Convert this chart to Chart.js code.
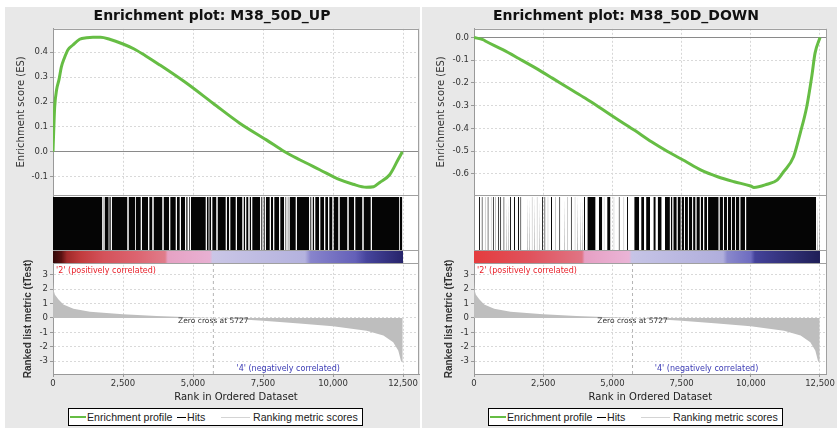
<!DOCTYPE html>
<html><head><meta charset="utf-8">
<script src="https://cdn.jsdelivr.net/npm/chart.js@4.4.1/dist/chart.umd.min.js"></script>
<style>
html,body{margin:0;padding:0;background:#fff;}
body{width:837px;height:428px;position:relative;overflow:hidden;}
.panel{position:absolute;top:7px;height:421px;width:415px;background:#e8e8e8;}
.panel canvas{position:absolute;left:0;top:0;}
.legend{position:absolute;top:401px;width:293px;height:16px;border:1px solid #000;background:#fff;font:10.6px "Liberation Sans",sans-serif;color:#222;white-space:nowrap;}
.legend span{position:absolute;top:1px;line-height:14px;}
.legend i{position:absolute;top:8px;height:0;border-top-style:solid;}
</style></head><body>
<div class="panel" id="pL" style="left:5px;"><canvas id="cL" width="415" height="400"></canvas>
  <div class="legend" style="left:63px;"><i style="left:1px;width:16px;border-top-width:2px;border-color:#66bd44;top:7px"></i><span style="left:18px">Enrichment profile</span><i style="left:108px;width:9px;border-top-width:1px;border-color:#000"></i><span style="left:118px">Hits</span><i style="left:152px;width:29px;border-top-width:1px;border-color:#d4d4d4"></i><span style="left:184px">Ranking metric scores</span></div>
</div>
<div class="panel" id="pR" style="left:422px;"><canvas id="cR" width="415" height="400"></canvas>
  <div class="legend" style="left:66px;"><i style="left:1px;width:16px;border-top-width:2px;border-color:#66bd44;top:7px"></i><span style="left:18px">Enrichment profile</span><i style="left:108px;width:9px;border-top-width:1px;border-color:#000"></i><span style="left:118px">Hits</span><i style="left:152px;width:29px;border-top-width:1px;border-color:#d4d4d4"></i><span style="left:184px">Ranking metric scores</span></div>
</div>
<script>
// ---------------- data ----------------
const rankTicks = [0, 2500, 5000, 7500, 10000, 12500];
const esUpTicks = [-0.1, 0, 0.1, 0.2, 0.3, 0.4];
const esDownTicks = [-0.6, -0.5, -0.4, -0.3, -0.2, -0.1, 0];
const metricTicks = [-3, -2, -1, 0, 1, 2, 3];

const esUpRanks  = [0, 24, 60, 130, 214, 297, 400, 535, 700, 952, 1200, 1428, 1700, 2023, 2500, 2900, 3300, 3810, 4762, 5714, 6667, 7619, 8274, 8810, 9524, 10238, 10714, 11190, 11450, 11667, 12024, 12321, 12476];
const esUpValues = [0, 0.08, 0.18, 0.25, 0.29, 0.34, 0.375, 0.41, 0.428, 0.452, 0.458, 0.46, 0.46, 0.452, 0.433, 0.413, 0.386, 0.349, 0.276, 0.195, 0.115, 0.048, 0.0, -0.032, -0.072, -0.112, -0.13, -0.142, -0.14, -0.123, -0.092, -0.032, 0.0];

const esDownRanks  = [0, 322, 442, 1039, 1636, 2233, 2830, 3427, 4024, 4621, 5218, 5816, 6413, 7010, 7607, 8204, 8801, 9398, 9995, 10113, 10590, 10949, 11187, 11545, 11784, 12023, 12202, 12321, 12500];
const esDownValues = [0, -0.01, -0.018, -0.054, -0.094, -0.135, -0.179, -0.224, -0.268, -0.315, -0.363, -0.41, -0.459, -0.503, -0.543, -0.584, -0.613, -0.635, -0.654, -0.66, -0.646, -0.628, -0.591, -0.525, -0.422, -0.304, -0.172, -0.069, 0];

const metricRanks  = [0, 15, 40, 70, 190, 370, 730, 1320, 2500, 3700, 4700, 5727, 6500, 7500, 8800, 10000, 11200, 11800, 12150, 12330, 12430, 12490];
const metricValues = [2.5, 2.1, 1.8, 1.6, 1.29, 0.94, 0.64, 0.43, 0.26, 0.14, 0.06, 0, -0.08, -0.19, -0.38, -0.58, -0.88, -1.22, -1.68, -2.26, -3.0, -3.1];

const zeroCross = 5727;

const hitRunsUp = [[0,1752],[1772,1803],[1839,1991],[2009,2065],[2101,2661],[2697,2943],[2961,3137],[3173,3399],[3435,3553],[3589,3911],[3947,4149],[4185,4387],[4423,4530],[4566,4720],[4756,4810],[4856,4887],[4923,5458],[5494,5562],[5580,5649],[5685,5839],[5875,6172],[6208,6292],[6328,6530],[6566,6768],[6804,6863],[6899,6982],[7018,7077],[7113,7399],[7435,7482],[7518,7565],[7601,7744],[7780,7863],[7899,8077],[8113,8252],[8296,8335],[8379,8411],[8447,8672],[8708,9149],[9185,9232],[9268,9327],[9363,9506],[9542,9684],[9720,9827],[9863,9982],[10018,10196],[10232,10518],[10554,10756],[10792,11053],[11089,11351],[11387,12372],[12390,12476]];

const hitRunsDown = [[179,215],[276,312],[394,412],[490,526],[609,627],[681,717],[777,795],[872,908],[945,981],[1063,1099],[1171,1189],[1231,1249],[1303,1339],[1446,1482],[1589,1625],[1672,1708],[1922,1940],[2005,2023],[2090,2108],[2184,2202],[2270,2288],[2363,2381],[2460,2496],[2542,2578],[2664,2682],[2782,2818],[2925,2943],[3079,3115],[3258,3276],[3380,3398],[3498,3534],[3641,3659],[3738,3756],[3831,3849],[3917,3935],[3974,4010],[4095,4393],[4511,4633],[4690,4708],[4811,4930],[5048,5066],[5227,5263],[5406,5424],[5527,5563],[5789,5968],[6039,6147],[6218,6362],[6480,6566],[6637,6780],[6899,7078],[7110,7170],[7200,7325],[7355,7470],[7500,7590],[7620,7730],[7760,7885],[7915,8005],[8035,8160],[8190,8275],[8315,8420],[8455,8840],[8870,8995],[9025,9140],[9170,9285],[9310,9440],[9465,9590],[9620,9790],[9830,12360],[12400,12420],[12470,12490]];

const bandEnd = 12500;
const negLabelRank = 8400;

// ---------------- styles ----------------
const bandStopsUp = [[0,'#300808'],[300,'#5a1212'],[500,'#a02a2a'],[1000,'#c23c3e'],[1800,'#d4525a'],[3000,'#dc6470'],[4000,'#e07c8a'],[4100,'#e6a2c4'],[5600,'#e8b0d2'],[5700,'#cac6e6'],[9000,'#b4b2de'],[9200,'#8884cc'],[10800,'#6460b8'],[11200,'#46449c'],[12500,'#26246a']];
const bandStopsDown = [[0,'#e43c3e'],[2000,'#e0525c'],[3900,'#e07484'],[4000,'#e6a0c4'],[5600,'#eab4d6'],[5700,'#c6c4e6'],[9000,'#b0aedc'],[9150,'#8a88cc'],[10000,'#6e6cc0'],[10150,'#44429a'],[12500,'#1e1e56']];

const BAND_TOP = 0.203, HIT_TOP = 0.971;
const DJ = "'DejaVu Sans', sans-serif";
const tickFont = {family: DJ, size: 8.5};
const CLEAR = 'rgba(0,0,0,0)';

function makeChart(id, o) {
  const datasets = [];
  datasets.push({label: 'Enrichment profile', yAxisID: 'yES', order: 0,
    data: o.esRanks.map((r, i) => ({x: r, y: o.esValues[i]})),
    borderColor: '#66bd44', borderWidth: 3, cubicInterpolationMode: 'monotone', fill: false});
  datasets.push({label: 'zero cross', yAxisID: 'yM', order: 1,
    data: [{x: zeroCross, y: o.mMin}, {x: zeroCross, y: o.mMax}],
    borderColor: '#b4b4b4', borderWidth: 1, borderDash: [3, 3], fill: false});
  o.hits.forEach(([a, b]) => datasets.push({label: 'Hits', yAxisID: 'yH', order: 2,
    data: [{x: a, y: HIT_TOP}, {x: b, y: HIT_TOP}],
    borderColor: CLEAR, borderWidth: 0, backgroundColor: '#050505', fill: {value: BAND_TOP}}));
  datasets.push({label: 'band', yAxisID: 'yH', order: 3,
    data: [{x: 0, y: BAND_TOP}, {x: bandEnd, y: BAND_TOP}],
    borderColor: CLEAR, borderWidth: 0, fill: {value: 0},
    backgroundColor: (c) => {
      const ch = c.chart, xs = ch.scales && ch.scales.x;
      if (!ch.chartArea || !xs) return '#c0c0e0';
      const x0 = xs.getPixelForValue(0), x1 = xs.getPixelForValue(bandEnd);
      const g = ch.ctx.createLinearGradient(x0, 0, x1, 0);
      o.band.forEach(([r, col]) => g.addColorStop(r / bandEnd, col));
      return g;
    }});
  datasets.push({label: 'Ranking metric scores', yAxisID: 'yM', order: 4,
    data: metricRanks.map((r, i) => ({x: r, y: metricValues[i]})),
    borderColor: CLEAR, borderWidth: 0, backgroundColor: '#bebebe', fill: {value: 0}});

  const frame = {
    id: 'frame',
    beforeDraw(chart) {
      const {ctx, chartArea: a} = chart;
      ctx.save(); ctx.fillStyle = '#fff';
      ctx.fillRect(a.left, a.top, a.right - a.left, a.bottom - a.top); ctx.restore();
    },
    afterDatasetsDraw(chart) {
      const {ctx, chartArea: a, scales} = chart;
      ctx.save();
      ctx.strokeStyle = '#a0a0a0'; ctx.lineWidth = 1;
      const hl = (y) => { y = Math.round(y) + 0.5; ctx.beginPath(); ctx.moveTo(a.left, y); ctx.lineTo(a.right, y); ctx.stroke(); };
      hl(a.top); hl(scales.yES.bottom); hl(scales.yH.getPixelForValue(BAND_TOP)); hl(scales.yH.bottom - 1);
      const xr = Math.round(a.right) - 0.5;
      ctx.beginPath(); ctx.moveTo(xr, a.top); ctx.lineTo(xr, a.bottom); ctx.stroke();
      const xs = scales.x, ym = scales.yM;
      ctx.textBaseline = 'middle';
      ctx.font = "7.5px " + DJ; ctx.fillStyle = '#333'; ctx.textAlign = 'center';
      ctx.fillText('Zero cross at ' + zeroCross, xs.getPixelForValue(zeroCross), ym.getPixelForValue(0) + 3.5);
      ctx.font = "8px " + DJ; ctx.fillStyle = '#e8202a'; ctx.textAlign = 'left';
      ctx.fillText("'2' (positively correlated)", xs.getPixelForValue(0) + 3, ym.top + 6.5);
      ctx.fillStyle = '#3a3ab4'; ctx.textAlign = 'center';
      ctx.fillText("'4' (negatively correlated)", xs.getPixelForValue(negLabelRank), ym.bottom - 5.5);
      ctx.restore();
    }
  };

  const setTicks = (arr) => (axis) => { axis.ticks = arr.map(v => ({value: v})); };
  const fitW = (axis) => { axis.width = o.axisW; };

  return new Chart(document.getElementById(id), {
    type: 'line',
    data: {datasets},
    options: {
      responsive: false, animation: false, devicePixelRatio: 1,
      elements: {point: {radius: 0, hoverRadius: 0}},
      layout: {padding: {left: 0, right: o.padRight, top: 0, bottom: 0}},
      plugins: {
        legend: {display: false}, tooltip: {enabled: false},
        title: {display: true, text: o.title, color: '#111',
          font: {family: DJ, size: 14, weight: 'bold'}, padding: {top: 1, bottom: 4}}
      },
      scales: {
        x: {type: 'linear', position: 'bottom', min: 0, max: o.xMax,
          afterBuildTicks: setTicks(rankTicks),
          afterFit: (a) => { a.height = 33; },
          ticks: {font: tickFont, color: '#333', padding: 2, maxRotation: 0, autoSkip: false,
            callback: (v) => Number(v).toLocaleString('en-US')},
          grid: {color: '#d6d6d6', tickColor: '#999', tickLength: 3},
          border: {display: true, color: '#999', dash: [2, 2]},
          title: {display: true, text: 'Rank in Ordered Dataset', color: '#222',
            font: {family: DJ, size: 10}, padding: {top: 0, bottom: 4}}},
        yES: {type: 'linear', position: 'left', stack: 'panel', stackWeight: 166, weight: 2,
          min: o.esMin, max: o.esMax, afterBuildTicks: setTicks(o.esTicks), afterFit: fitW,
          ticks: {font: tickFont, color: '#333', padding: 2, autoSkip: false, callback: (v) => Number(v).toFixed(1)},
          grid: {color: (c) => (c.tick && c.tick.value === 0) ? '#8a8a8a' : '#d9d9d9', tickColor: '#999', tickLength: 3},
          border: {display: true, color: '#999', dash: (c) => (c.tick && c.tick.value === 0) ? [] : [2, 2]},
          title: {display: true, text: 'Enrichment score (ES)', color: '#333',
            font: {family: DJ, size: 10}, padding: {top: o.esTitlePad, bottom: 0}}},
        yH: {type: 'linear', position: 'left', stack: 'panel', stackWeight: 69, weight: 1,
          min: 0, max: 1, afterFit: fitW,
          ticks: {display: false}, grid: {display: false},
          border: {display: true, color: '#999'}},
        yM: {type: 'linear', position: 'left', stack: 'panel', stackWeight: 110, weight: 0,
          min: o.mMin, max: o.mMax, afterBuildTicks: setTicks(metricTicks), afterFit: fitW,
          ticks: {font: tickFont, color: '#333', padding: 2, autoSkip: false, callback: (v) => String(v)},
          grid: {color: '#d9d9d9', tickColor: '#999', tickLength: 3},
          border: {display: true, color: '#999', dash: [2, 2]},
          title: {display: true, text: 'Ranked list metric (tTest)', color: '#333',
            font: {family: "'Liberation Sans', sans-serif", size: 10, weight: 'bold'},
            padding: {top: o.mTitlePad, bottom: 0}}}
      }
    },
    plugins: [frame]
  });
}

makeChart('cL', {
  title: 'Enrichment plot: M38_50D_UP',
  esRanks: esUpRanks, esValues: esUpValues, esTicks: esUpTicks,
  esMin: -0.173, esMax: 0.494, mMin: -3.88, mMax: 3.74,
  hits: hitRunsUp, band: bandStopsUp,
  xMax: 13071, axisW: 48, padRight: 1, esTitlePad: 10, mTitlePad: 17
});
makeChart('cR', {
  title: 'Enrichment plot: M38_50D_DOWN',
  esRanks: esDownRanks, esValues: esDownValues, esTicks: esDownTicks,
  esMin: -0.693, esMax: 0.038, mMin: -3.88, mMax: 3.74,
  hits: hitRunsDown, band: bandStopsDown,
  xMax: 12740, axisW: 52, padRight: 7, esTitlePad: 13.7, mTitlePad: 21.5
});
</script>
</body></html>
